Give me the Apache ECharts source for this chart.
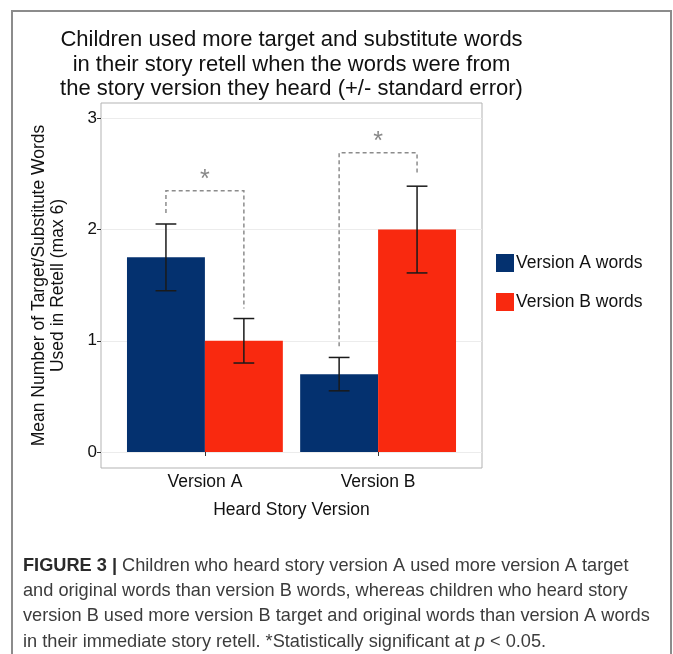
<!DOCTYPE html>
<html>
<head>
<meta charset="utf-8">
<script src="https://cdn.jsdelivr.net/npm/echarts@6/dist/echarts.min.js"></script>
<style>
  html, body { margin: 0; padding: 0; background: #fff; }
  #main { width: 673px; height: 654px; }
</style>
</head>
<body>
<div id="main"></div>
<script>
// data
const categories = ['Version A', 'Version B'];
const seriesNames = ['Version A words', 'Version B words'];
const versionAWords = [1.75, 0.70];
const versionBWords = [1.00, 2.00];
// standard error bounds
const versionALow = [1.45, 0.55];
const versionAHigh = [2.05, 0.85];
const versionBLow = [0.80, 1.61];
const versionBHigh = [1.20, 2.39];
// significance brackets (one per heard version)
const bracketTop = [2.35, 2.69];
const bracketLeftEnd = [2.15, 0.95];
const bracketRightEnd = [1.29, 2.49];
const starLevel = [2.49, 2.83];
const yTicks = [0, 1, 2, 3];

const colors = ['#04316f', '#f9290f'];
const font = '"Liberation Sans", Arial, sans-serif';
const half = 0.45; // bar width in category units

const chart = echarts.init(document.getElementById('main'));

function barSeries(name, values, k) {
  return {
    name: name,
    type: 'custom',
    z: 3,
    itemStyle: { color: colors[k] },
    data: values.map((v, i) => [i + 1, v]),
    renderItem(params, api) {
      const c = api.value(0);
      const x0 = c - half + k * half;
      const p0 = api.coord([x0, api.value(1)]);
      const p1 = api.coord([x0 + half, 0]);
      return {
        type: 'rect',
        shape: { x: p0[0], y: p0[1], width: p1[0] - p0[0], height: p1[1] - p0[1] },
        style: { fill: api.visual('color') }
      };
    }
  };
}

const errData = [];
categories.forEach((c, i) => {
  errData.push([i + 1 - half / 2, versionALow[i], versionAHigh[i]]);
  errData.push([i + 1 + half / 2, versionBLow[i], versionBHigh[i]]);
});

const bracketData = categories.map((c, i) => [
  i + 1 - half / 2, i + 1 + half / 2,
  bracketTop[i], bracketLeftEnd[i], bracketRightEnd[i], starLevel[i], i + 1
]);

chart.setOption({
  animation: false,
  backgroundColor: '#fff',
  title: {
    text: 'Children used more target and substitute words\nin their story retell when the words were from\nthe story version they heard (+/- standard error)',
    left: 291.5,
    top: 28,
    padding: 0,
    textAlign: 'center',
    textStyle: { fontFamily: font, fontSize: 22, fontWeight: 'normal', lineHeight: 24.5, color: '#111' }
  },
  legend: {
    orient: 'vertical',
    left: 496,
    top: 254,
    padding: 0,
    itemWidth: 18,
    itemHeight: 18,
    itemGap: 21,
    icon: 'rect',
    data: seriesNames,
    textStyle: { fontFamily: font, fontSize: 17.5, color: '#111', padding: [0, 0, 0, -3] }
  },
  grid: {
    left: 101, top: 103, width: 381, height: 365,
    show: true, borderColor: '#b3b3b3', borderWidth: 1, backgroundColor: '#fff'
  },
  xAxis: {
    type: 'value',
    min: 0.4, max: 2.6,
    axisLine: { show: false },
    splitLine: { show: false },
    axisTick: { customValues: [1, 2], length: 4, lineStyle: { color: '#333' } },
    axisLabel: {
      customValues: [1, 2],
      formatter: v => categories[Math.round(v) - 1],
      fontFamily: font, fontSize: 17.5, color: '#111', margin: 5
    },
    name: 'Heard Story Version',
    nameLocation: 'middle',
    nameGap: 33,
    nameTextStyle: { fontFamily: font, fontSize: 17.5, color: '#111' }
  },
  yAxis: {
    type: 'value',
    min: -0.144, max: 3.138,
    axisLine: { show: false },
    axisTick: { customValues: yTicks, length: 4, lineStyle: { color: '#333' } },
    axisLabel: { customValues: yTicks, fontFamily: font, fontSize: 17, color: '#111', margin: 4 },
    splitLine: { show: true, lineStyle: { color: '#ececec', width: 1 } },
    name: 'Mean Number of Target/Substitute Words\nUsed in Retell (max 6)',
    nameLocation: 'middle',
    nameRotate: 90,
    nameGap: 33,
    nameTextStyle: { fontFamily: font, fontSize: 17.5, lineHeight: 19, color: '#111' }
  },
  series: [
    barSeries(seriesNames[0], versionAWords, 0),
    barSeries(seriesNames[1], versionBWords, 1),
    {
      type: 'custom',
      name: 'se',
      z: 5,
      data: errData,
      renderItem(params, api) {
        const x = api.value(0);
        const lo = api.coord([x, api.value(1)]);
        const hi = api.coord([x, api.value(2)]);
        const w = api.size([0.06, 0])[0];
        const st = { stroke: '#1a1a1a', lineWidth: 1.5 };
        return {
          type: 'group',
          children: [
            { type: 'line', shape: { x1: lo[0], y1: lo[1], x2: hi[0], y2: hi[1] }, style: st },
            { type: 'line', shape: { x1: lo[0] - w, y1: lo[1], x2: lo[0] + w, y2: lo[1] }, style: st },
            { type: 'line', shape: { x1: hi[0] - w, y1: hi[1], x2: hi[0] + w, y2: hi[1] }, style: st }
          ]
        };
      }
    },
    {
      type: 'custom',
      name: 'sig',
      z: 6,
      data: bracketData,
      renderItem(params, api) {
        const xl = api.value(0), xr = api.value(1), top = api.value(2);
        const a = api.coord([xl, api.value(3)]);
        const b = api.coord([xl, top]);
        const c = api.coord([xr, top]);
        const d = api.coord([xr, api.value(4)]);
        const s = api.coord([api.value(6), api.value(5)]);
        return {
          type: 'group',
          children: [
            {
              type: 'polyline',
              shape: { points: [a, b, c, d] },
              style: { stroke: '#8c8c8c', lineWidth: 1.5, lineDash: [4, 3], fill: null }
            },
            {
              type: 'text',
              x: s[0], y: s[1] + 5,
              style: { text: '*', fontFamily: font, fontSize: 25, fill: '#888', align: 'center', verticalAlign: 'middle' }
            }
          ]
        };
      }
    }
  ],
  graphic: [
    {
      type: 'polyline',
      silent: true,
      shape: { points: [[12, 660], [12, 11], [671, 11], [671, 660]] },
      style: { stroke: '#8c8c8c', lineWidth: 2, fill: null }
    },
    {
      type: 'text',
      left: 23,
      top: 553,
      style: {
        text: '{b|FIGURE 3 |} Children who heard story version A used more version A target\n' +
          'and original words than version B words, whereas children who heard story\n' +
          'version B used more version B target and original words than version A words\n' +
          'in their immediate story retell. *Statistically significant at {i|p} < 0.05.',
        fontFamily: font,
        fontSize: 18.2,
        lineHeight: 25.3,
        fill: '#3c3c3c',
        rich: {
          b: { fontFamily: font, fontSize: 18.2, fontWeight: 'bold', fill: '#2a2a2a', lineHeight: 25.3 },
          i: { fontFamily: font, fontSize: 18.2, fontStyle: 'italic', fill: '#3c3c3c', lineHeight: 25.3 }
        }
      }
    }
  ]
});
</script>
</body>
</html>
